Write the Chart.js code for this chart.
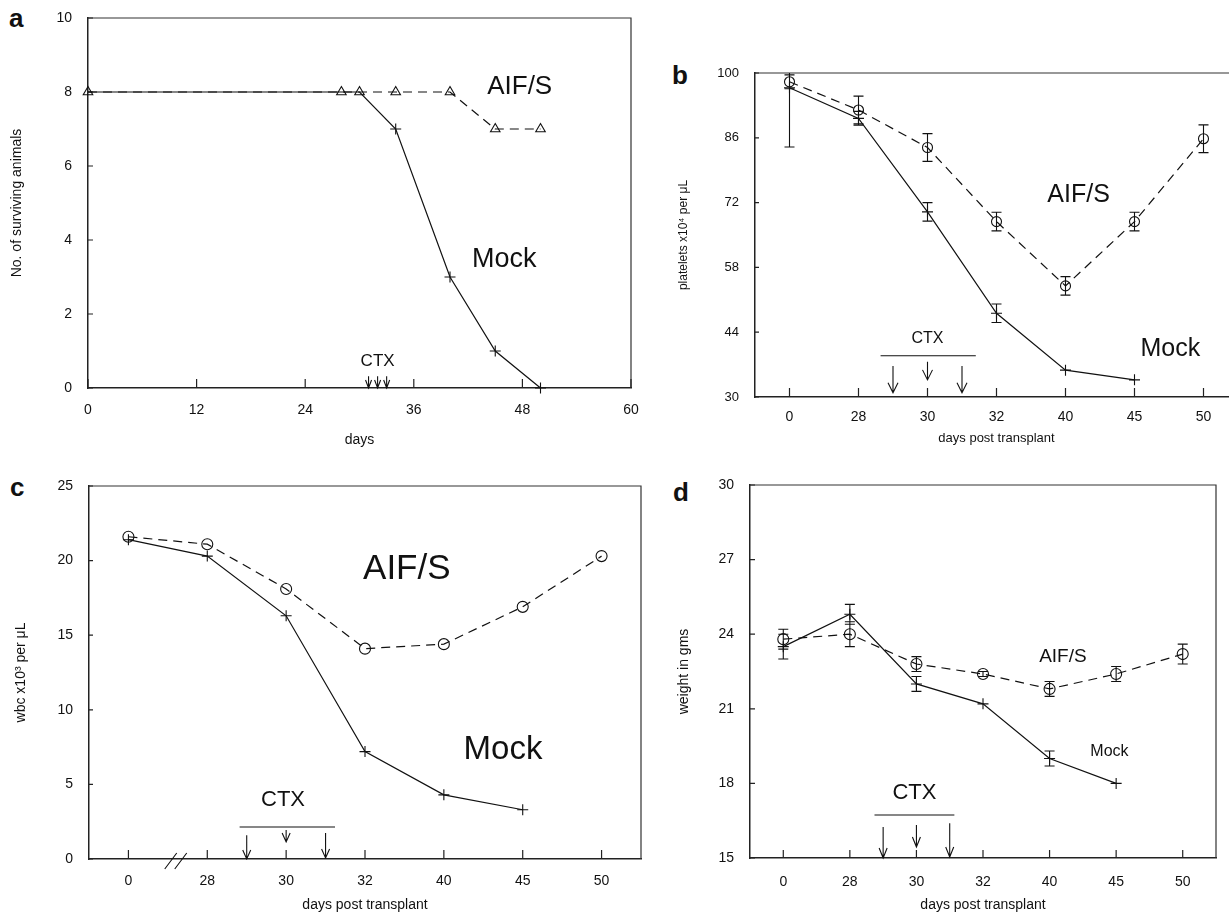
<!DOCTYPE html>
<html>
<head>
<meta charset="utf-8">
<title>AIF/S vs Mock after CTX</title>
<script src="https://cdn.jsdelivr.net/npm/chart.js@4.4.1/dist/chart.umd.min.js"></script>
<style>
  html, body { margin: 0; padding: 0; background: #fff; width: 1229px; height: 914px; overflow: hidden; }
  canvas { position: absolute; }
  .tag { position: absolute; font: bold 26px/26px "Liberation Sans", Arial, sans-serif; color: #111; }
</style>
</head>
<body>
<div class="tag" style="left:9px;top:5px">a</div>
<div class="tag" style="left:672px;top:62px">b</div>
<div class="tag" style="left:10px;top:474px">c</div>
<div class="tag" style="left:673px;top:479px">d</div>

<canvas id="chart-a" width="645" height="460" style="left:0;top:0"></canvas>
<canvas id="chart-b" width="600" height="410" style="left:660px;top:50px"></canvas>
<canvas id="chart-c" width="650" height="444" style="left:0;top:470px"></canvas>
<canvas id="chart-d" width="569" height="444" style="left:660px;top:470px"></canvas>

<script>
// --- a: survival ---
const SURV_DAYS = [0, 28, 30, 34, 40, 45, 50];
const SURV_AIF = [8, 8, 8, 8, 8, 7, 7];
const SURV_MOCK = [8, 8, 8, 7, 3, 1, 0];
const CTX_DAYS_A = [31, 32, 33];

// --- b-d: sampled on the same days ---
const DAY_LABELS = ["0", "28", "30", "32", "40", "45", "50"];
const CTX_DAYS = [29, 30, 31];

const PLT_AIF = [98.1, 92.0, 83.9, 67.9, 54.0, 67.9, 85.8];
const PLT_AIF_ERR = [1.5, 3, 3, 2, 2, 2, 3];
const PLT_MOCK = [96.8, 90.2, 70.0, 48.1, 35.8, 33.7, null];
const PLT_MOCK_ERR = [12.8, 1.5, 2, 2, 0, 0, null];

const WBC_AIF = [21.6, 21.1, 18.1, 14.1, 14.4, 16.9, 20.3];
const WBC_MOCK = [21.4, 20.3, 16.3, 7.2, 4.3, 3.3, null];

const WT_AIF = [23.8, 24.0, 22.8, 22.4, 21.8, 22.4, 23.2];
const WT_AIF_ERR = [0.4, 0.5, 0.3, 0.1, 0.3, 0.3, 0.4];
const WT_MOCK = [23.5, 24.8, 22.0, 21.2, 19.0, 18.0, null];
const WT_MOCK_ERR = [0.5, 0.4, 0.3, 0, 0.3, 0, null];

const FONT = '"Liberation Sans", Arial, sans-serif';
const INK = "#111";
const DAY_NUM = DAY_LABELS.map(Number);

// category axes: turn a real day into a fractional category index
function dayToIndex(day) {
  for (let i = 0; i < DAY_NUM.length - 1; i++) {
    if (day >= DAY_NUM[i] && day <= DAY_NUM[i + 1]) {
      return i + (day - DAY_NUM[i]) / (DAY_NUM[i + 1] - DAY_NUM[i]);
    }
  }
  return DAY_NUM.length - 1;
}

function drawArrow(ctx, x, y0, y1, hw, hh) {
  ctx.moveTo(x, y0);
  ctx.lineTo(x, y1);
  ctx.moveTo(x - hw, y1 - hh);
  ctx.lineTo(x, y1);
  ctx.lineTo(x + hw, y1 - hh);
}

// frame, inward ticks, error bars and the text notes
const panelDecor = {
  id: "panelDecor",
  beforeDatasetsDraw(chart, args, opts) {
    const { ctx, chartArea: a } = chart;
    const { x, y } = chart.scales;
    ctx.save();
    ctx.strokeStyle = "#333";
    ctx.lineWidth = 1.2;
    ctx.beginPath();
    ctx.moveTo(a.left, a.top);
    ctx.lineTo(a.right, a.top);
    ctx.lineTo(a.right, a.bottom);
    ctx.stroke();

    ctx.strokeStyle = "#222";
    ctx.beginPath();
    x.ticks.forEach((t, i) => {
      const px = x.getPixelForTick(i);
      ctx.moveTo(px, a.bottom);
      ctx.lineTo(px, a.bottom - opts.xTick);
    });
    y.ticks.forEach((t, i) => {
      const py = y.getPixelForTick(i);
      ctx.moveTo(a.left, py);
      ctx.lineTo(a.left + opts.yTick, py);
    });
    ctx.stroke();
    ctx.restore();
  },
  afterDatasetsDraw(chart, args, opts) {
    const { ctx, chartArea: a } = chart;
    const { x, y } = chart.scales;
    ctx.save();
    ctx.strokeStyle = INK;
    ctx.fillStyle = INK;
    ctx.lineWidth = 1.1;

    // error bars
    ctx.beginPath();
    chart.data.datasets.forEach((ds, di) => {
      if (!ds.errors) return;
      chart.getDatasetMeta(di).data.forEach((pt, i) => {
        const v = ds.data[i];
        const e = ds.errors[i];
        if (v == null || !e) return;
        const hi = y.getPixelForValue(v + e);
        const lo = y.getPixelForValue(v - e);
        const top = Math.max(hi, a.top);
        ctx.moveTo(pt.x, top);
        ctx.lineTo(pt.x, lo);
        if (hi >= a.top) {
          ctx.moveTo(pt.x - 5, hi);
          ctx.lineTo(pt.x + 5, hi);
        }
        ctx.moveTo(pt.x - 5, lo);
        ctx.lineTo(pt.x + 5, lo);
      });
    });
    ctx.stroke();

    // CTX arrows and bar
    const c = opts.ctx;
    if (c) {
      ctx.beginPath();
      c.at.forEach((v, i) => {
        drawArrow(ctx, x.getPixelForValue(v), y.getPixelForValue(c.top[i]),
          y.getPixelForValue(c.bottom[i]), c.head[0], c.head[1]);
      });
      if (c.bar) {
        const by = y.getPixelForValue(c.bar[2]);
        ctx.moveTo(x.getPixelForValue(c.bar[0]), by);
        ctx.lineTo(x.getPixelForValue(c.bar[1]), by);
      }
      ctx.stroke();
    }

    // axis break
    if (opts.brk != null) {
      const bx = x.getPixelForValue(opts.brk);
      ctx.beginPath();
      [-5, 5].forEach((d) => {
        ctx.moveTo(bx + d - 6, a.bottom + 10);
        ctx.lineTo(bx + d + 6, a.bottom - 6);
      });
      ctx.stroke();
    }

    // text notes
    ctx.textAlign = "center";
    ctx.textBaseline = "middle";
    (opts.labels || []).forEach((l) => {
      ctx.font = `${l.size}px ${FONT}`;
      ctx.fillText(l.text, x.getPixelForValue(l.x), y.getPixelForValue(l.y));
    });
    ctx.restore();
  },
};

function seriesStyle(dashed, style, radius) {
  return {
    borderColor: INK,
    borderWidth: 1.2,
    borderDash: dashed ? [9, 6] : [],
    pointStyle: style,
    pointRadius: radius,
    pointBorderColor: INK,
    pointBorderWidth: 1.1,
    pointBackgroundColor: "rgba(0,0,0,0)",
    tension: 0,
    spanGaps: false,
    clip: false,
  };
}

// fixed axis boxes, and no extra label padding pushed into the layout
function fixBox(size, vertical) {
  return (s) => {
    if (vertical) s.width = size;
    else s.height = size;
    s.paddingTop = 0;
    s.paddingBottom = 0;
    s.paddingLeft = 0;
    s.paddingRight = 0;
  };
}

function axisX(cfg) {
  return {
    type: cfg.type || "category",
    offset: cfg.type !== "linear",
    min: cfg.min,
    max: cfg.max,
    grid: { display: false, drawTicks: false },
    border: { display: true, color: "#222", width: 1.5 },
    ticks: {
      color: INK, font: { family: FONT, size: 14 }, padding: cfg.tickPad,
      stepSize: cfg.step, autoSkip: false, maxRotation: 0,
    },
    title: {
      display: true, text: cfg.title, color: INK,
      font: { family: FONT, size: cfg.titleSize }, padding: { top: 0, bottom: cfg.titlePad },
    },
    afterFit: fixBox(cfg.height, false),
  };
}

function axisY(cfg) {
  return {
    type: "linear",
    min: cfg.min,
    max: cfg.max,
    grid: { display: false, drawTicks: false },
    border: { display: true, color: "#222", width: 1.5 },
    ticks: { color: INK, font: { family: FONT, size: cfg.tickSize || 14 }, padding: 16, stepSize: cfg.step },
    title: {
      display: true, text: cfg.title, color: INK,
      font: { family: FONT, size: cfg.titleSize }, padding: { top: cfg.titlePad, bottom: 0 },
    },
    afterFit: fixBox(cfg.width, true),
  };
}

function makePanel(id, data, pad, scales, decor) {
  return new Chart(document.getElementById(id), {
    type: "line",
    data,
    options: {
      responsive: false,
      animation: false,
      events: [],
      layout: { padding: { top: pad[0], right: pad[1], bottom: 0, left: 0 } },
      plugins: { legend: { display: false }, tooltip: { enabled: false }, panelDecor: decor },
      scales,
    },
    plugins: [panelDecor],
  });
}

const ctxAt = CTX_DAYS.map(dayToIndex);

// a
makePanel("chart-a", {
  datasets: [
    { data: SURV_DAYS.map((d, i) => ({ x: d, y: SURV_MOCK[i] })), ...seriesStyle(false, "cross", [0, 0, 0, 5.5, 5.5, 5.5, 5.5]) },
    { data: SURV_DAYS.map((d, i) => ({ x: d, y: SURV_AIF[i] })), ...seriesStyle(true, "triangle", 5.5) },
  ],
}, [18, 14], {
  x: axisX({ type: "linear", min: 0, max: 60, step: 12, tickPad: 14, title: "days", titleSize: 14, titlePad: 11, height: 72 }),
  y: axisY({ min: 0, max: 10, step: 2, title: "No. of surviving animals", titleSize: 14, titlePad: 9, width: 88 }),
}, {
  xTick: 9, yTick: 5,
  ctx: { at: CTX_DAYS_A, top: [0.32, 0.32, 0.32], bottom: [0, 0, 0], head: [3, 8], bar: null },
  labels: [
    { text: "AIF/S", x: 47.7, y: 8.14, size: 26 },
    { text: "Mock", x: 46, y: 3.46, size: 27 },
    { text: "CTX", x: 32, y: 0.73, size: 17 },
  ],
});

// b
makePanel("chart-b", {
  labels: DAY_LABELS,
  datasets: [
    { data: PLT_MOCK, errors: PLT_MOCK_ERR, ...seriesStyle(false, "cross", 5.5) },
    { data: PLT_AIF, errors: PLT_AIF_ERR, ...seriesStyle(true, "circle", 5) },
  ],
}, [23, 22], {
  x: axisX({ tickPad: 12, title: "days post transplant", titleSize: 13, titlePad: 14, height: 63 }),
  y: axisY({ min: 30, max: 100, step: 14, tickSize: 13, title: "platelets x10\u2074 per \u03bcL", titleSize: 12, titlePad: 16, width: 95 }),
}, {
  xTick: 9, yTick: 4,
  ctx: { at: ctxAt, top: [36.7, 37.6, 36.7], bottom: [30.9, 33.7, 30.9], head: [5, 10], bar: [1.32, 2.7, 38.9] },
  labels: [
    { text: "AIF/S", x: 4.19, y: 73.6, size: 25 },
    { text: "Mock", x: 5.52, y: 40.4, size: 25 },
    { text: "CTX", x: 2.0, y: 42.7, size: 16 },
  ],
});

// c
makePanel("chart-c", {
  labels: DAY_LABELS,
  datasets: [
    { data: WBC_MOCK, ...seriesStyle(false, "cross", 5.5) },
    { data: WBC_AIF, ...seriesStyle(true, "circle", 5.5) },
  ],
}, [16, 9], {
  x: axisX({ tickPad: 14, title: "days post transplant", titleSize: 14, titlePad: 0, height: 55 }),
  y: axisY({ min: 0, max: 25, step: 5, title: "wbc x10\u00b3 per \u03bcL", titleSize: 14, titlePad: 13, width: 89 }),
}, {
  xTick: 9, yTick: 4,
  ctx: { at: ctxAt, top: [1.6, 1.95, 1.74], bottom: [0, 1.14, 0.07], head: [4, 9], bar: [1.41, 2.62, 2.14] },
  brk: 0.6,
  labels: [
    { text: "AIF/S", x: 3.53, y: 19.4, size: 35 },
    { text: "Mock", x: 4.75, y: 7.3, size: 33 },
    { text: "CTX", x: 1.96, y: 3.95, size: 22 },
  ],
});

// d
makePanel("chart-d", {
  labels: DAY_LABELS,
  datasets: [
    { data: WT_MOCK, errors: WT_MOCK_ERR, ...seriesStyle(false, "cross", 5.5) },
    { data: WT_AIF, errors: WT_AIF_ERR, ...seriesStyle(true, "circle", 5.5) },
  ],
}, [15, 13], {
  x: axisX({ tickPad: 16, title: "days post transplant", titleSize: 14, titlePad: 0, height: 56 }),
  y: axisY({ min: 15, max: 30, step: 3, title: "weight in gms", titleSize: 14, titlePad: 16, width: 90 }),
}, {
  xTick: 8, yTick: 5,
  ctx: { at: ctxAt, top: [16.25, 16.33, 16.4], bottom: [15, 15.44, 15.04], head: [4, 10], bar: [1.37, 2.57, 16.73] },
  labels: [
    { text: "AIF/S", x: 4.2, y: 23.08, size: 19 },
    { text: "Mock", x: 4.9, y: 19.26, size: 16 },
    { text: "CTX", x: 1.97, y: 17.6, size: 22 },
  ],
});
</script>
</body>
</html>
